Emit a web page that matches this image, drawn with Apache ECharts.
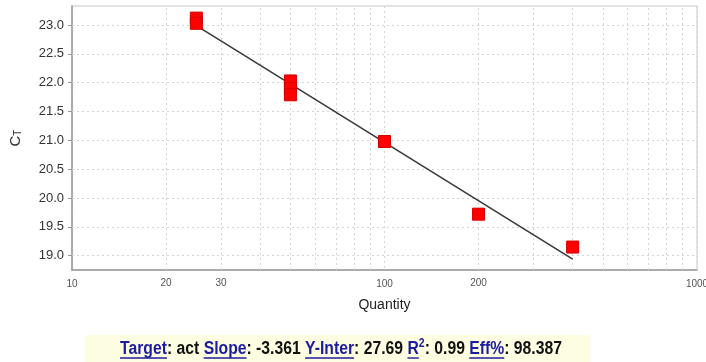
<!DOCTYPE html>
<html><head><meta charset="utf-8">
<script src="https://cdn.jsdelivr.net/npm/echarts@6/dist/echarts.min.js"></script>
<style>html,body{margin:0;padding:0;background:#fff}#c{width:706px;height:362px}</style>
</head><body><div id="c"></div>
<script>
// ---- data ----
const quantity = [25, 25, 50, 50, 50, 100, 200, 400];
const ct = [23.12, 23.03, 22.03, 21.9, 21.79, 20.98, 19.72, 19.15];
const fitQuantity = [25, 400];
const fitCt = [22.99, 18.94];
const yTicks = [19.0, 19.5, 20.0, 20.5, 21.0, 21.5, 22.0, 22.5, 23.0];
const xMinorGrid = [20, 30, 40, 50, 60, 70, 80, 90, 200, 300, 400, 500, 600, 700, 800, 900];
const xExtraLabels = [20, 30, 200];
const captionParts = [
  { t: 'Target', link: true }, { t: ': act ' },
  { t: 'Slope', link: true }, { t: ': -3.361 ' },
  { t: 'Y-Inter', link: true }, { t: ': 27.69 ' },
  { t: 'R', link: true }, { t: '2', link: true, sup: true }, { t: ': 0.99 ' },
  { t: 'Eff%', link: true }, { t: ': 98.387' }
];

const chart = echarts.init(document.getElementById('c'), null, { renderer: 'canvas' });
const gridColor = '#d4d4d4';
const fontFam = 'Liberation Sans, Arial, sans-serif';

// caption layout
const cv = document.createElement('canvas').getContext('2d');
const mainSize = 18, supSize = 12;
let cx = 0;
const capChildren = [];
captionParts.forEach(p => {
  const size = p.sup ? supSize : mainSize;
  cv.font = 'bold ' + size + 'px ' + fontFam;
  const w = cv.measureText(p.t).width;
  const color = p.link ? '#1c1ca0' : '#111';
  capChildren.push({
    type: 'text', x: cx, y: p.sup ? 343.5 : 349.5,
    style: { text: p.t, font: 'bold ' + size + 'px ' + fontFam, fill: color, verticalAlign: 'middle', align: 'left' }
  });
  if (p.link && !p.sup) {
    capChildren.push({ type: 'line', shape: { x1: cx, y1: 358, x2: cx + w, y2: 358 }, style: { stroke: color, lineWidth: 1.4 } });
  }
  cx += w;
});
const capWidth = cx;
const targetWidth = 442;

const markData = xMinorGrid.map(v => ({
  xAxis: v,
  label: { show: xExtraLabels.indexOf(v) >= 0, formatter: String(v), position: 'start', distance: 8, color: '#555', fontSize: 10, fontFamily: fontFam }
})).concat(yTicks.map(v => ({ yAxis: v, label: { show: false } })));

chart.setOption({
  animation: false,
  backgroundColor: '#fff',
  grid: { left: 72, right: 9, top: 6, bottom: 92, outerBoundsMode: 'none', containLabel: false, show: true, borderColor: '#c8c8c8', borderWidth: 1, backgroundColor: '#fff' },
  xAxis: {
    type: 'log', logBase: 10, min: 10, max: 1000,
    name: 'Quantity', nameLocation: 'middle', nameGap: 28,
    nameTextStyle: { fontSize: 14, color: '#222', fontFamily: fontFam },
    axisLine: { lineStyle: { color: '#999', width: 1.5 } },
    axisTick: { show: false },
    axisLabel: { fontSize: 10, color: '#555', margin: 9, fontFamily: fontFam, formatter: v => String(v) },
    splitLine: { show: true, lineStyle: { color: gridColor, type: [2, 3] } },
    minorTick: { show: false }, minorSplitLine: { show: false }
  },
  yAxis: {
    type: 'value', min: 18.752, max: 23.33,
    name: '{a|C}{b|T}', nameLocation: 'middle', nameGap: 49, nameRotate: 90,
    nameTextStyle: { color: '#333', rich: { a: { fontSize: 15, fontFamily: fontFam, color: '#333' }, b: { fontSize: 10, fontFamily: fontFam, color: '#333', verticalAlign: 'bottom' } } },
    axisLine: { show: true, lineStyle: { color: '#999', width: 1.5 } },
    axisTick: { show: true, length: 4, customValues: yTicks, lineStyle: { color: '#999' } },
    axisLabel: { customValues: yTicks, fontSize: 13, color: '#333', margin: 8, fontFamily: fontFam, formatter: v => Number(v).toFixed(1) },
    splitLine: { show: false }
  },
  series: [
    {
      type: 'line', data: fitQuantity.map((q, i) => [q, fitCt[i]]), symbol: 'none',
      lineStyle: { color: '#3a3a3a', width: 1.6 }, z: 3,
      markLine: { silent: true, symbol: ['none', 'none'], lineStyle: { color: gridColor, type: [2, 3], width: 1 }, data: markData, z: 1 }
    },
    {
      type: 'scatter', data: quantity.map((q, i) => [q, ct[i]]), symbol: 'rect', symbolSize: 12,
      itemStyle: { color: '#ff0000', borderColor: '#d00000', borderWidth: 1, opacity: 1 }, z: 4
    }
  ],
  graphic: [
    { type: 'rect', shape: { x: 85, y: 335, width: 505, height: 27 }, style: { fill: '#fdfde2' }, z: 0 },
    { type: 'group', x: 120, y: 0, scaleX: targetWidth / capWidth, children: capChildren, z: 1 }
  ]
});
</script></body></html>
